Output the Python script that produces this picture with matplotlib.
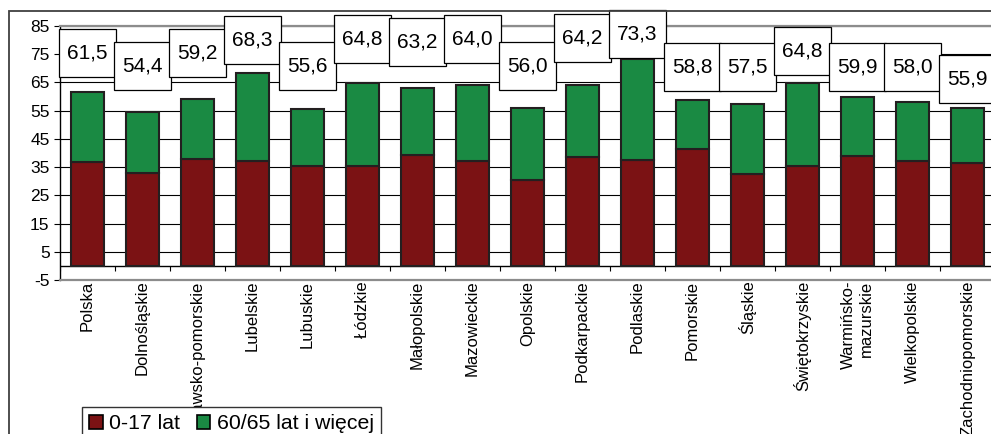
import matplotlib
matplotlib.use("Agg")
import matplotlib.pyplot as plt
from matplotlib.patches import Rectangle, Patch
import numpy as np

plt.rcParams['font.family'] = ['Liberation Sans', 'DejaVu Sans']

# ---- data ----
regions = ["Polska", "Dolnośląskie", "Kujawsko-pomorskie", "Lubelskie", "Lubuskie",
           "Łódzkie", "Małopolskie", "Mazowieckie", "Opolskie", "Podkarpackie",
           "Podlaskie", "Pomorskie", "Śląskie", "Świętokrzyskie",
           "Warmińsko-\nmazurskie", "Wielkopolskie", "Zachodniopomorskie"]
youth = [36.7, 33.0, 37.8, 37.2, 35.3, 35.3, 39.2, 37.1, 30.4, 38.6, 37.5,
         41.4, 32.4, 35.5, 39.0, 37.3, 36.6]
elderly = [24.8, 21.4, 21.4, 31.1, 20.3, 29.5, 24.0, 26.9, 25.6, 25.6, 35.8,
           17.4, 25.1, 29.3, 20.9, 20.7, 19.3]
series_names = ["0-17 lat", "60/65 lat i więcej"]
y_ticks = [-5, 5, 15, 25, 35, 45, 55, 65, 75, 85]

# ---- layout (label box centres, in value units) ----
label_y = [75.6, 70.7, 75.5, 80.1, 70.7, 80.4, 79.4, 80.4, 70.7, 80.6, 82.0,
           70.5, 70.5, 76.2, 70.5, 70.5, 66.2]

red = "#7B1214"
green = "#1A8A43"
edge = "#231F20"

W, H = 991, 434
fig = plt.figure(figsize=(W / 100, H / 100), dpi=100)
ax = fig.add_axes([60 / W, 1 - 280 / H, 935 / W, (280 - 26) / H])

x = np.arange(len(regions))
ax.bar(x, youth, width=0.6, color=red, edgecolor=edge, linewidth=1.5, zorder=3)
ax.bar(x, elderly, width=0.6, bottom=youth, color=green, edgecolor=edge,
       linewidth=1.5, zorder=3)

ax.set_xlim(-0.5, len(regions) - 0.5)
ax.set_ylim(-5, 85)
ax.set_yticks(y_ticks)
ax.set_yticklabels([str(v) for v in y_ticks], fontsize=12.5)
ax.tick_params(axis='y', direction='out', length=4, width=0.8, color='black', pad=3.5)
ax.set_axisbelow(True)
ax.yaxis.grid(True, color='black', linewidth=0.8)

ax.set_xticks(x)
ax.set_xticklabels(regions, rotation=90, fontsize=12, va='top', ha='center',
                   multialignment='right')
ax.tick_params(axis='x', length=0, pad=0.5)

for s in ['top', 'bottom']:
    ax.spines[s].set_color('#8c8c8c')
    ax.spines[s].set_linewidth(1.6)
    ax.spines[s].set_zorder(2.6)
ax.spines['right'].set_visible(False)
ax.spines['left'].set_color('black')
ax.spines['left'].set_linewidth(1.0)

# category axis at zero with boundary tick marks
ax.axhline(0, color='black', linewidth=1.0, zorder=2)
ax.vlines(np.arange(len(regions) + 1) - 0.5, -1.8, 0, color='black', linewidth=0.8, zorder=2)

# data label boxes
for i in range(len(regions)):
    total = youth[i] + elderly[i]
    rect = Rectangle((i - 0.515, label_y[i] - 8.5), 1.03, 17, facecolor='white',
                     edgecolor='black', linewidth=0.9, zorder=5, clip_on=False)
    ax.add_patch(rect)
    ax.text(i, label_y[i], f"{total:.1f}".replace('.', ','), ha='center', va='center',
            fontsize=15, zorder=6, clip_on=False)

# legend
handles = [Patch(facecolor=red, edgecolor='black', linewidth=1.2),
           Patch(facecolor=green, edgecolor='black', linewidth=1.2)]
leg = fig.legend(handles, series_names, loc='upper left',
                 bbox_to_anchor=(82 / W, 1 - 407 / H), borderaxespad=0,
                 ncol=2, fontsize=15.3, handlelength=0.62, handleheight=0.62,
                 handletextpad=0.3, columnspacing=0.8, borderpad=0.35,
                 fancybox=False, frameon=True)
leg.get_frame().set_edgecolor('#333333')
leg.get_frame().set_linewidth(1.0)
leg.get_frame().set_facecolor('white')
leg.get_frame().set_alpha(1)
leg.set_zorder(10)

# outer chart frame
fig.patches.append(Rectangle((9 / W, -0.2), 1.2, 1 - 11 / H + 0.2, transform=fig.transFigure,
                             fill=False, edgecolor='#404040', linewidth=1.3))

fig.savefig("out.png", dpi=100)
